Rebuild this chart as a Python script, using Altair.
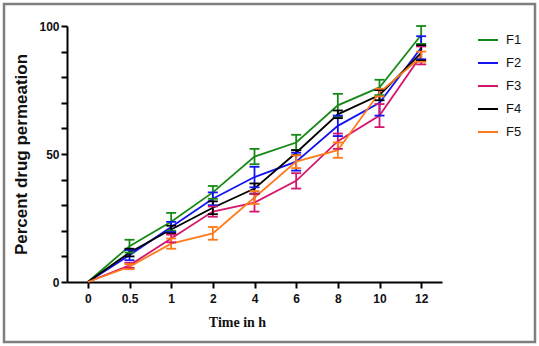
import altair as alt
import pandas as pd

times = ["0", "0.5", "1", "2", "4", "6", "8", "10", "12"]
series = ["F1", "F2", "F3", "F4", "F5"]
colors = ["#168a16", "#1414f0", "#d4166e", "#000000", "#ff7a1a"]
y_tick_values = [0, 10, 20, 30, 40, 50, 60, 70, 80, 90, 100]

f1_mean = [0, 14, 23.5, 35, 49, 54.5, 69, 76, 96.5]
f1_err = [0, 2.5, 3.5, 2.5, 3, 3, 4.5, 3, 3.5]
f2_mean = [0, 10.5, 21.5, 32.5, 41, 47, 61, 70, 91.5]
f2_err = [0, 2, 2, 2.5, 4, 3.5, 4, 5, 4.5]
f3_mean = [0, 6.5, 17, 27.5, 31, 39.5, 55, 65, 88.5]
f3_err = [0, 1, 1.5, 2, 3.5, 3, 3, 4.5, 3.5]
f4_mean = [0, 11.5, 20.5, 29, 36.5, 50.5, 65.5, 73, 89.5]
f4_err = [0, 1.5, 1.5, 2.5, 2, 1, 1.5, 2, 3]
f5_mean = [0, 6, 15, 19, 33, 47, 51.5, 74, 88]
f5_err = [0, 1, 2, 2.5, 2.5, 2.5, 3, 1.5, 2]

means = [f1_mean, f2_mean, f3_mean, f4_mean, f5_mean]
errs = [f1_err, f2_err, f3_err, f4_err, f5_err]

rows = []
for name, m, e in zip(series, means, errs):
    for i, (t, v, s) in enumerate(zip(times, m, e)):
        rows.append(dict(time=t, idx=i, series=name, mean=v, lo=v - s, hi=v + s, err=s))
df = pd.DataFrame(rows)

x_enc = alt.X(
    "time:O",
    sort=times,
    scale=alt.Scale(type="point", padding=0.5),
    axis=alt.Axis(
        title="Time in h",
        titleFont="Liberation Serif",
        titleFontWeight="bold",
        titleFontSize=14,
        titleColor="#111111",
        titlePadding=11,
        titleX=170,
        labelFont="Liberation Sans",
        labelFontWeight="bold",
        labelFontSize=12,
        labelColor="#111111",
        labelAngle=0,
        labelPadding=5,
        domainColor="black",
        domainWidth=2,
        tickColor="black",
        tickWidth=2,
        tickSize=6,
    ),
)

y_scale = alt.Scale(domain=[0, 100], nice=False)
y_axis = alt.Axis(
    title="Percent drug permeation",
    titleFont="Liberation Sans",
    titleFontWeight="bold",
    titleFontSize=17,
    titleColor="#111111",
    titlePadding=8,
    values=y_tick_values,
    labelOpacity={"condition": {"test": "datum.value % 50 === 0", "value": 1}, "value": 0},
    labelOverlap=False,
    labelFont="Liberation Sans",
    labelFontWeight="bold",
    labelFontSize=12,
    labelColor="#111111",
    labelPadding=2,
    domainColor="black",
    domainWidth=2,
    ticks=True,
    tickColor="black",
    tickWidth=2,
    tickSize=6,
)

legend = alt.Legend(
    title=None,
    orient="none",
    legendX=410,
    legendY=3,
    symbolType="stroke",
    symbolSize=400,
    symbolStrokeWidth=2,
    labelFont="Liberation Sans",
    labelFontSize=13,
    labelColor="#111111",
    labelOffset=7,
    rowPadding=5,
)
color_enc = alt.Color("series:N", scale=alt.Scale(domain=series, range=colors), legend=legend)

base = alt.Chart(df)

lines = base.mark_line(strokeWidth=1.8).encode(
    x=x_enc, y=alt.Y("mean:Q", scale=y_scale, axis=y_axis), color=color_enc, order="idx:Q"
)
rules = base.transform_filter("datum.err > 0").mark_rule(strokeWidth=1.8).encode(
    x=x_enc, y=alt.Y("lo:Q", scale=y_scale, axis=y_axis), y2="hi:Q", color=color_enc
)
caps_lo = base.transform_filter("datum.err > 0").mark_tick(size=10, thickness=1.8, opacity=1).encode(
    x=x_enc, y=alt.Y("lo:Q", scale=y_scale, axis=y_axis), color=color_enc
)
caps_hi = base.transform_filter("datum.err > 0").mark_tick(size=10, thickness=1.8, opacity=1).encode(
    x=x_enc, y=alt.Y("hi:Q", scale=y_scale, axis=y_axis), color=color_enc
)

frame = alt.Chart(pd.DataFrame({"k": [0]})).mark_rect(
    filled=False, stroke="#7f7f7f", strokeWidth=2.5
).encode(x=alt.value(-63), x2=alt.value(468), y=alt.value(-22), y2=alt.value(316))

chart = alt.layer(lines, rules, caps_lo, caps_hi, frame).properties(
    width=375,
    height=256,
    autosize=alt.AutoSizeParams(type="none"),
    padding={"left": 67, "top": 26, "right": 97, "bottom": 64},
    background="white",
).configure_view(stroke=None).configure_axis(grid=False)

chart.save("out.html", embed_options={"renderer": "svg", "actions": False})
